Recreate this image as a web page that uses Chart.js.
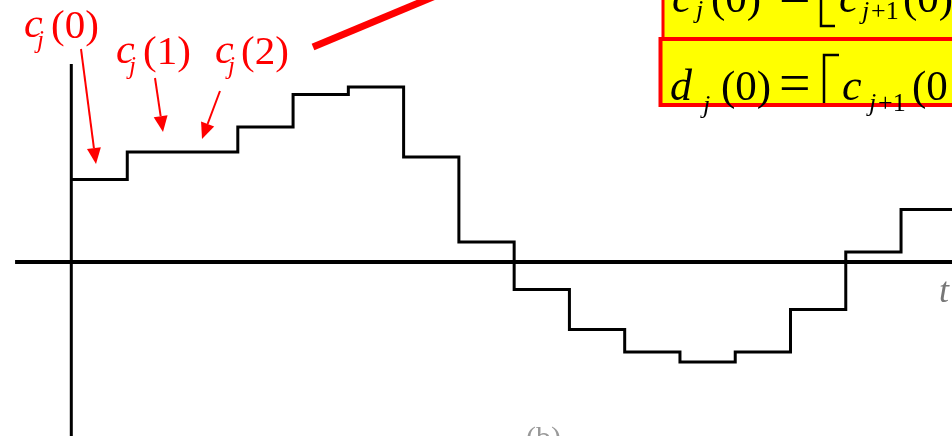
<!DOCTYPE html>
<html>
<head>
<meta charset="utf-8">
<script src="https://cdn.jsdelivr.net/npm/chart.js@4/dist/chart.umd.min.js"></script>
<style>
  html, body { margin: 0; padding: 0; background: #fff; }
  #chart { display: block; }
</style>
</head>
<body>
<canvas id="chart" width="952" height="442"></canvas>
<script>
// 每个区间 [k, k+1) 上的取值 c_j(k)
const levels = [3.3, 4.4, 4.4, 5.4, 6.7, 7.0, 4.2, 0.8, -1.1, -2.7, -3.6, -4.0, -3.6, -1.9, 0.4, 2.1];
const stepIndex = levels.map((_, k) => k);

// 坐标范围：原点在左侧纵轴与横轴交点
const X_MIN = -1.3027, X_MAX = 15.922;
const Y_MIN = -7.2, Y_MAX = 10.48;

const SERIF = '"Liberation Serif", "Times New Roman", serif';
const RED = '#ff0000';

// 阶梯折线的点：最后一个区间补一个右端点
const points = stepIndex.map(k => ({ x: k, y: levels[k] }));
points.push({ x: levels.length, y: levels[levels.length - 1] });

// 画坐标轴（在数据线之前）
const axesPlugin = {
    id: 'axes',
    beforeDatasetsDraw(chart) {
        const { ctx, scales: { x, y } } = chart;
        const x0 = x.getPixelForValue(0) - 0.7;
        const y0 = y.getPixelForValue(0);
        ctx.save();
        ctx.strokeStyle = '#000';
        ctx.lineCap = 'butt';
        // 横轴
        ctx.lineWidth = 4;
        ctx.beginPath();
        ctx.moveTo(x.getPixelForValue(-1.03), y0);
        ctx.lineTo(chart.width, y0);
        ctx.stroke();
        // 纵轴
        ctx.lineWidth = 3;
        ctx.beginPath();
        ctx.moveTo(x0, y.getPixelForValue(7.92));
        ctx.lineTo(x0, y.getPixelForValue(-6.96));
        ctx.stroke();
        ctx.restore();
    }
};

// 逐段写公式文字（斜体变量、下标、括号分开放）
function drawSubText(ctx, parts, color) {
    ctx.fillStyle = color;
    ctx.textBaseline = 'alphabetic';
    ctx.textAlign = 'left';
    parts.forEach(p => {
        ctx.font = `${p.italic ? 'italic ' : ''}${p.size}px ${SERIF}`;
        ctx.fillText(p.text, p.x, p.y);
    });
}

function drawArrow(ctx, fx, fy, tx, ty) {
    const ang = Math.atan2(ty - fy, tx - fx);
    const len = 16, half = 7;
    const bx = tx - len * Math.cos(ang), by = ty - len * Math.sin(ang);
    ctx.beginPath();
    ctx.moveTo(fx, fy);
    ctx.lineTo(bx, by);
    ctx.stroke();
    ctx.beginPath();
    ctx.moveTo(tx, ty);
    ctx.lineTo(bx + half * Math.sin(ang), by - half * Math.cos(ang));
    ctx.lineTo(bx - half * Math.sin(ang), by + half * Math.cos(ang));
    ctx.closePath();
    ctx.fill();
}

// 红色标注、黄色公式框等
const notesPlugin = {
    id: 'notes',
    afterDatasetsDraw(chart) {
        const ctx = chart.ctx;
        ctx.save();

        // c_j(0), c_j(1), c_j(2) 标签
        drawSubText(ctx, [
            { text: 'c', x: 24, y: 37, size: 42, italic: true },
            { text: 'j', x: 37, y: 48, size: 25, italic: true },
            { text: '(0)', x: 51, y: 38, size: 41 },
            { text: 'c', x: 116, y: 63, size: 42, italic: true },
            { text: 'j', x: 129, y: 74, size: 25, italic: true },
            { text: '(1)', x: 143, y: 64, size: 41 },
            { text: 'c', x: 215, y: 63, size: 42, italic: true },
            { text: 'j', x: 228, y: 74, size: 25, italic: true },
            { text: '(2)', x: 241, y: 64, size: 41 }
        ], RED);

        // 指向各段的箭头
        ctx.strokeStyle = RED;
        ctx.fillStyle = RED;
        ctx.lineWidth = 2;
        drawArrow(ctx, 81, 49, 96, 164);
        drawArrow(ctx, 155, 78, 163, 132);
        drawArrow(ctx, 220, 91, 202, 139);

        // 粗红线
        ctx.lineWidth = 7;
        ctx.lineCap = 'butt';
        ctx.beginPath();
        ctx.moveTo(313, 47);
        ctx.lineTo(313 + 200, 47 - 83.4);
        ctx.stroke();

        // 公式框 1
        ctx.fillStyle = '#ffff00';
        ctx.fillRect(663, -10, 400, 48.5);
        ctx.strokeStyle = RED;
        ctx.lineWidth = 3;
        ctx.strokeRect(663, -10, 400, 48.5);
        drawSubText(ctx, [
            { text: 'c', x: 672, y: 12, size: 44, italic: true },
            { text: 'j', x: 696, y: 18, size: 26, italic: true },
            { text: '(0)', x: 711, y: 12, size: 43 },
            { text: '=', x: 779, y: 14, size: 56 },
            { text: 'c', x: 839, y: 12, size: 44, italic: true },
            { text: 'j', x: 862, y: 19, size: 26, italic: true },
            { text: '+1', x: 871, y: 19, size: 26 },
            { text: '(0),', x: 903, y: 12, size: 43 }
        ], '#000');
        ctx.strokeStyle = '#000';
        ctx.lineWidth = 2.5;
        ctx.beginPath();
        ctx.moveTo(821, -10);
        ctx.lineTo(821, 26);
        ctx.lineTo(835, 26);
        ctx.stroke();

        // 公式框 2
        ctx.fillStyle = '#ffff00';
        ctx.fillRect(660.5, 39, 400, 66);
        ctx.strokeStyle = RED;
        ctx.lineWidth = 4;
        ctx.strokeRect(660.5, 39, 400, 66);
        drawSubText(ctx, [
            { text: 'd', x: 670, y: 100, size: 44, italic: true },
            { text: 'j', x: 703, y: 113, size: 26, italic: true },
            { text: '(0)', x: 721, y: 100, size: 43 },
            { text: '=', x: 779, y: 102, size: 56 },
            { text: 'c', x: 842, y: 100, size: 44, italic: true },
            { text: 'j', x: 869, y: 111, size: 26, italic: true },
            { text: '+1', x: 878, y: 111, size: 26 },
            { text: '(0', x: 912, y: 100, size: 43 }
        ], '#000');
        ctx.save();
        ctx.beginPath();
        ctx.rect(662, 41, 400, 62);
        ctx.clip();
        ctx.strokeStyle = '#000';
        ctx.lineWidth = 2.5;
        ctx.beginPath();
        ctx.moveTo(839, 55);
        ctx.lineTo(824, 55);
        ctx.lineTo(824, 110);
        ctx.stroke();
        ctx.restore();

        // 横轴名 t 和图号 (b)
        drawSubText(ctx, [{ text: 't', x: 939, y: 302, size: 36, italic: true }], '#777');
        ctx.save();
        ctx.beginPath();
        ctx.rect(500, 420, 100, 16);
        ctx.clip();
        drawSubText(ctx, [{ text: '(b)', x: 526, y: 447, size: 30 }], '#999');
        ctx.restore();

        ctx.restore();
    }
};

new Chart(document.getElementById('chart').getContext('2d'), {
    type: 'line',
    data: {
        datasets: [{
            data: points,
            stepped: true,
            borderColor: '#000',
            borderWidth: 3,
            borderJoinStyle: 'miter',
            borderCapStyle: 'butt',
            pointRadius: 0,
            fill: false
        }]
    },
    options: {
        responsive: false,
        animation: false,
        layout: { padding: 0 },
        plugins: {
            legend: { display: false },
            tooltip: { enabled: false }
        },
        scales: {
            x: { type: 'linear', min: X_MIN, max: X_MAX, display: false },
            y: { min: Y_MIN, max: Y_MAX, display: false }
        }
    },
    plugins: [axesPlugin, notesPlugin]
});
</script>
</body>
</html>
